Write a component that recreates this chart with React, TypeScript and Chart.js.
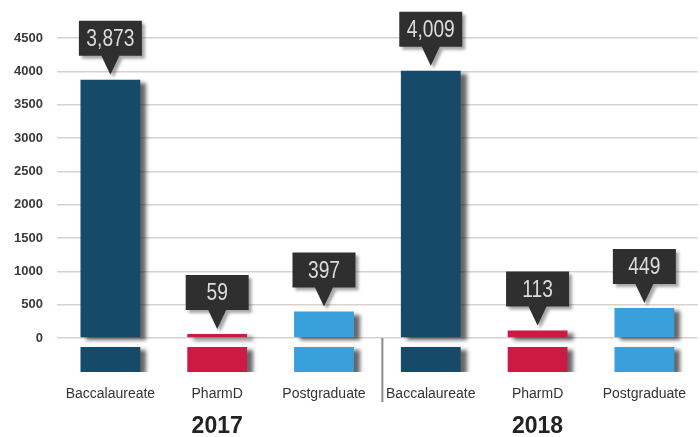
import React, { useEffect, useRef } from 'react';
import { Chart, registerables } from 'chart.js';

Chart.register(...registerables);

const categories = ['Baccalaureate', 'PharmD', 'Postgraduate', 'Baccalaureate', 'PharmD', 'Postgraduate'];
const yearLabels = ['', '2017', '', '', '2018', ''];
const graduates = [3873, 59, 397, 4009, 113, 449];
const barColors = ['#154a68', '#cc1a44', '#3aa0dc', '#154a68', '#cc1a44', '#3aa0dc'];
const yTickValues = [0, 500, 1000, 1500, 2000, 2500, 3000, 3500, 4000, 4500];
const AXIS_MIN = -510;
const BREAK_TOP = -135;
const brokenStubs = categories.map(() => [AXIS_MIN, BREAK_TOP]);

const SANS = "'Liberation Sans', Arial, sans-serif";

const decorPlugin = {
  id: 'decor',
  beforeDatasetsDraw(chart: any) {
    const ctx = chart.ctx;
    ctx.save();
    ctx.shadowColor = 'rgba(0,0,0,0.6)';
    ctx.shadowOffsetX = 6;
    ctx.shadowOffsetY = 3;
    ctx.shadowBlur = 4;
  },
  afterDatasetsDraw(chart: any) {
    const ctx = chart.ctx;
    ctx.restore();
    const meta = chart.getDatasetMeta(1);
    const bw = 63, bh = 35, ph = 19, pw = 18;
    meta.data.forEach((bar: any, i: number) => {
      const cx = bar.x;
      const tipY = bar.y - 5;
      const boxBottom = tipY - ph;
      const boxTop = boxBottom - bh;
      ctx.save();
      ctx.shadowColor = 'rgba(0,0,0,0.35)';
      ctx.shadowOffsetX = 3;
      ctx.shadowOffsetY = 3;
      ctx.shadowBlur = 3;
      ctx.fillStyle = '#2f2f2f';
      ctx.beginPath();
      ctx.moveTo(cx - bw / 2, boxTop);
      ctx.lineTo(cx + bw / 2, boxTop);
      ctx.lineTo(cx + bw / 2, boxBottom);
      ctx.lineTo(cx + pw / 2, boxBottom);
      ctx.lineTo(cx, tipY);
      ctx.lineTo(cx - pw / 2, boxBottom);
      ctx.lineTo(cx - bw / 2, boxBottom);
      ctx.closePath();
      ctx.fill();
      ctx.restore();
      ctx.save();
      ctx.fillStyle = '#dcdcdc';
      ctx.font = `24px ${SANS}`;
      ctx.textAlign = 'center';
      ctx.textBaseline = 'middle';
      ctx.translate(cx, (boxTop + boxBottom) / 2 + 1);
      ctx.scale(0.8, 1);
      ctx.fillText(graduates[i].toLocaleString('en-US'), 0, 0);
      ctx.restore();
    });
  },
  afterDraw(chart: any) {
    const { x, y } = chart.scales;
    const ctx = chart.ctx;
    const sx = (x.getPixelForValue(2) + x.getPixelForValue(3)) / 2 + 5;
    ctx.save();
    ctx.strokeStyle = '#8a8a8a';
    ctx.lineWidth = 2;
    ctx.beginPath();
    ctx.moveTo(sx, y.getPixelForValue(0));
    ctx.lineTo(sx, x.bottom - 3);
    ctx.stroke();
    ctx.restore();
  },
};

export default function App() {
  const ref = useRef<HTMLCanvasElement>(null);
  useEffect(() => {
    document.body.style.margin = '0';
    const chart = new Chart(ref.current as HTMLCanvasElement, {
      type: 'bar',
      data: {
        labels: categories,
        datasets: [
          {
            data: brokenStubs as any,
            backgroundColor: barColors,
            grouped: false,
            barPercentage: 0.56,
            categoryPercentage: 1,
          } as any,
          {
            data: graduates,
            backgroundColor: barColors,
            grouped: false,
            barPercentage: 0.56,
            categoryPercentage: 1,
          } as any,
        ],
      },
      options: {
        responsive: false,
        animation: false,
        layout: { padding: { top: 38, right: 0, left: 0, bottom: 0 } },
        plugins: { legend: { display: false }, tooltip: { enabled: false } },
        scales: {
          x: {
            type: 'category',
            grid: { display: false, drawTicks: false },
            border: { display: false },
            ticks: {
              color: '#333',
              font: { family: SANS, size: 14 },
              padding: 14,
              maxRotation: 0,
              autoSkip: false,
            },
            afterFit: (s: any) => { s.height = 33; },
          },
          x2: {
            type: 'category',
            labels: yearLabels,
            position: 'bottom',
            grid: { display: false, drawTicks: false },
            border: { display: false },
            ticks: {
              color: '#222',
              font: { family: SANS, size: 23, weight: 'bold' },
              padding: 8,
              maxRotation: 0,
              autoSkip: false,
            },
            afterFit: (s: any) => { s.height = 32; },
          },
          y: {
            min: AXIS_MIN,
            max: 4500,
            border: { display: false },
            grid: { color: '#dcd0cc', lineWidth: 1.5, drawTicks: false },
            afterBuildTicks: (s: any) => {
              s.ticks = yTickValues.map((v) => ({ value: v }));
            },
            afterFit: (s: any) => { s.width = 57; },
            ticks: {
              color: '#3a3a3a',
              font: { family: SANS, size: 13, weight: 'bold' },
              padding: 14,
              callback: (v: any) => String(v),
            },
          },
        },
      } as any,
      plugins: [decorPlugin],
    });
    return () => chart.destroy();
  }, []);
  return (
    <div style={{ width: 700, height: 437, background: '#fff' }}>
      <canvas ref={ref} width={700} height={437} />
    </div>
  );
}
